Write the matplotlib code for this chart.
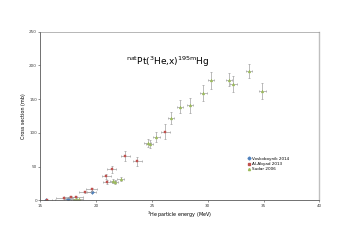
import matplotlib.pyplot as plt
from matplotlib.lines import Line2D
import numpy as np

# Voskoboynik 2014
vos_e = np.array([15.5, 17.5, 19.6])
vos_s = np.array([0.2, 2.0, 12.3])
vos_de = np.array([0.5, 0.4, 0.4])
vos_ds = np.array([0.3, 0.5, 1.5])

# Al-Abyad 2013
ala_e = np.array([15.6, 17.1, 17.7, 18.2, 19.0, 19.6, 20.9, 21.0, 21.4, 22.6, 23.7, 26.2])
ala_s = np.array([0.3, 3.2, 5.3, 5.0, 12.8, 16.3, 35.6, 26.7, 46.0, 65.5, 58.0, 101.8])
ala_de = np.array([0.7, 0.7, 0.6, 0.6, 0.5, 0.5, 0.4, 0.4, 0.4, 0.4, 0.4, 0.4])
ala_ds = np.array([0.2, 0.5, 0.7, 0.7, 1.5, 2.0, 4.0, 3.0, 5.5, 7.5, 7.0, 11.5])

# Sudar 2006
sud_e = np.array([18.0, 18.2, 18.5, 21.5, 21.7, 22.2, 24.6, 24.8, 25.4, 26.7,
                  27.5, 28.4, 29.6, 30.3, 31.9, 32.3, 33.7, 34.9])
sud_s = np.array([1.0, 2.5, 1.5, 28.5, 27.5, 32.0, 85.0, 84.0, 94.0, 122.0,
                  139.0, 141.0, 159.0, 178.0, 179.0, 172.0, 192.0, 162.0])
sud_de = np.full(len(sud_e), 0.3)
sud_ds = np.array([0.5, 0.5, 0.5, 3.0, 3.0, 3.0, 6.0, 6.0, 7.0, 9.5,
                   10.0, 11.0, 12.0, 13.0, 10.0, 12.0, 10.0, 12.0])

series = [
    ('Voskoboynik 2014', vos_e, vos_s, vos_de, vos_ds, 'D', '#4F81BD'),
    ('Al-Abyad 2013', ala_e, ala_s, ala_de, ala_ds, 's', '#C0504D'),
    ('Sudar 2006', sud_e, sud_s, sud_de, sud_ds, '^', '#9BBB59'),
]

fig = plt.figure(figsize=(3.51, 2.48), dpi=100)
ax = fig.add_axes([0.115, 0.192, 0.795, 0.680])

handles = []
for name, e, s, de, ds, mk, col in series:
    ax.errorbar(e, s, xerr=de, yerr=ds, fmt='none', ecolor='#a0a0a0',
                elinewidth=0.5, capsize=0.8, capthick=0.5)
    ax.plot(e, s, mk, ms=2, color=col, mec=col, mew=0.3, linestyle='none')
    handles.append(Line2D([], [], marker=mk, ms=1.5, color=col, linestyle='none', label=name))

ax.set_xlim(15, 40)
ax.set_ylim(0, 250)
ax.set_xticks([15, 20, 25, 30, 35, 40])
ax.set_yticks([0, 50, 100, 150, 200, 250])
ax.tick_params(labelsize=3, length=1.5, width=0.4, pad=1, colors='#404040')

for side in ['left', 'bottom']:
    ax.spines[side].set_color('#595959')
    ax.spines[side].set_linewidth(0.6)
ax.spines['top'].set_color('#808080')
ax.spines['top'].set_linewidth(0.4)
ax.spines['right'].set_color('#bfbfbf')
ax.spines['right'].set_linewidth(1.0)

ax.set_xlabel(r'$^{\mathregular{3}}$He particle energy (MeV)', fontsize=3.5, labelpad=1.5)
ax.set_ylabel('Cross section (mb)', fontsize=3.5, labelpad=2)

ax.text(0.455, 0.82,
        r'$^{\mathregular{nat}}$Pt($^{\mathregular{3}}$He,x)$^{\mathregular{195m}}$Hg',
        transform=ax.transAxes, ha='center', va='center', fontsize=6.5)

ax.legend(handles=handles, loc='upper left', bbox_to_anchor=(0.735, 0.275), fontsize=3,
          frameon=False, handlelength=0.5, handletextpad=0.3, labelspacing=0.3, borderpad=0.2)

fig.savefig('out.png', dpi=100)
